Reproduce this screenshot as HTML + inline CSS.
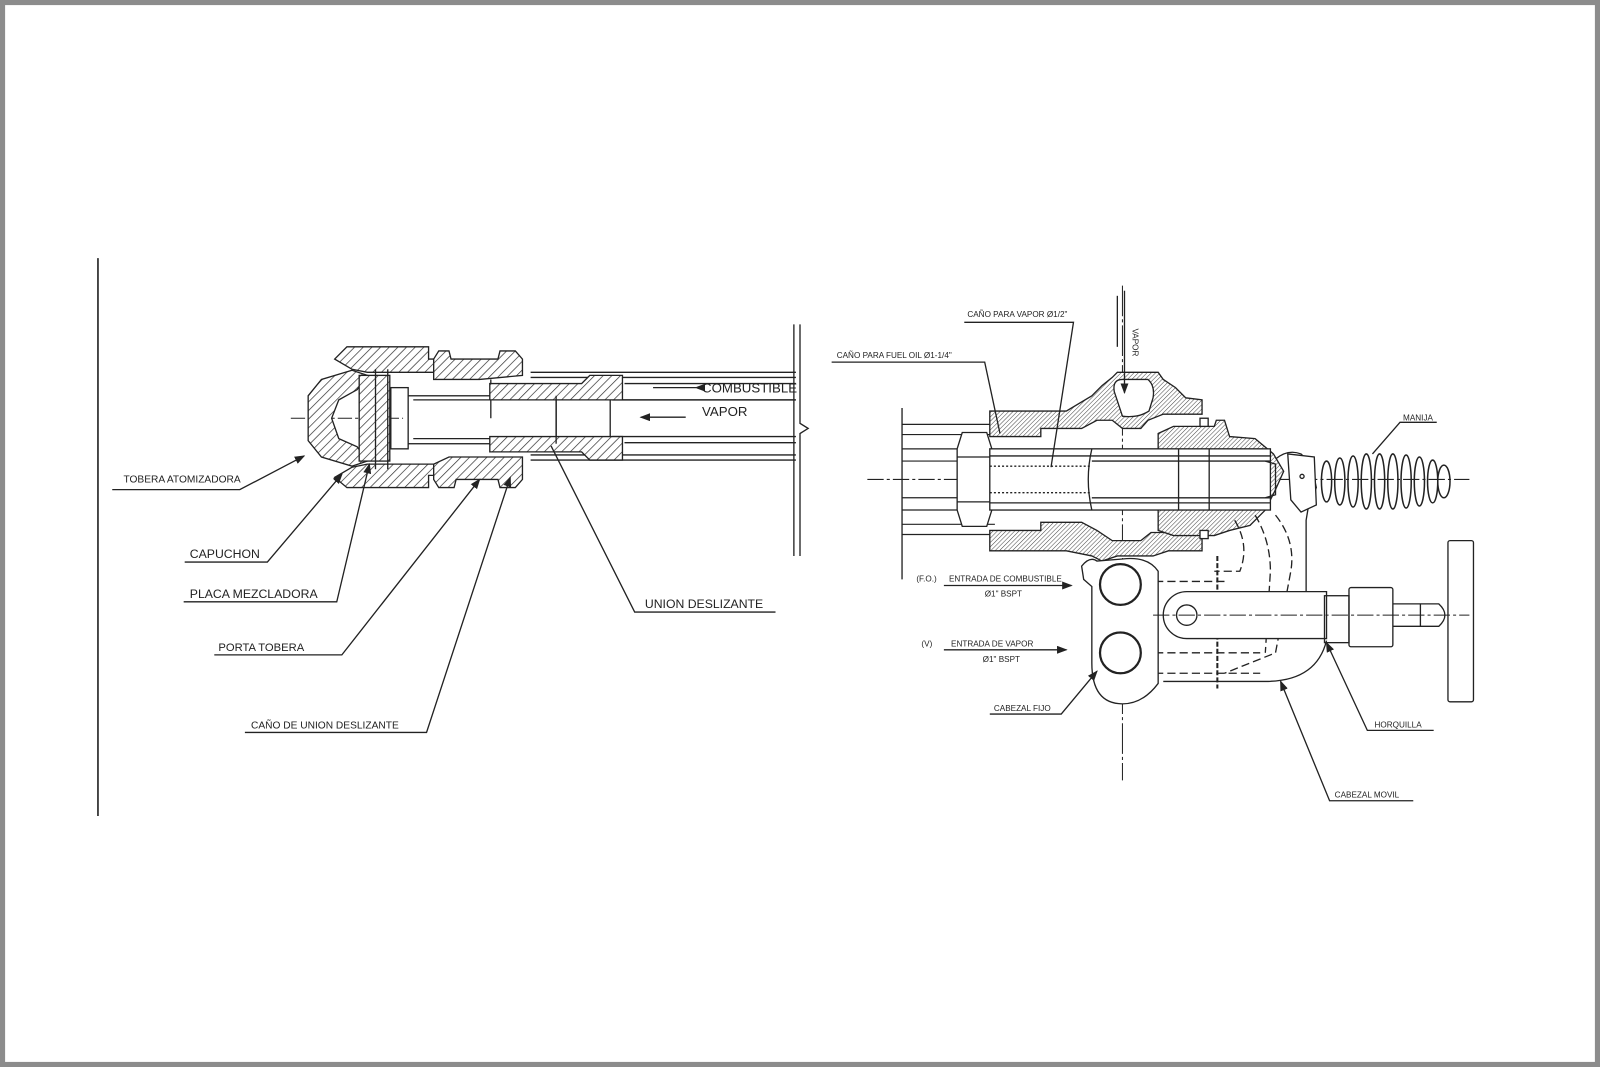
<!DOCTYPE html>
<html><head><meta charset="utf-8"><style>
html,body{margin:0;padding:0;background:#fff}
svg{display:block}
text{font-family:"Liberation Sans",sans-serif;fill:#222}
</style></head><body>
<svg width="1600" height="1067" viewBox="0 0 1568 1046" preserveAspectRatio="none" xmlns="http://www.w3.org/2000/svg">
<defs>
<pattern id="h" width="6" height="6" patternUnits="userSpaceOnUse" patternTransform="rotate(45)"><rect width="6" height="6" fill="#fff"/><line x1="0" y1="0" x2="0" y2="6" stroke="#333" stroke-width="1.4"/></pattern>
<pattern id="hf" width="3" height="3" patternUnits="userSpaceOnUse" patternTransform="rotate(45)"><rect width="3" height="3" fill="#fff"/><line x1="0" y1="0" x2="0" y2="3" stroke="#444" stroke-width="1"/></pattern>
<marker id="a" markerWidth="8" markerHeight="6" refX="7" refY="3" orient="auto"><path d="M0,0 L8,3 L0,6z" fill="#222"/></marker>
</defs>
<rect x="2.5" y="2.5" width="1563" height="1041" fill="#fff" stroke="#8c8c8c" stroke-width="5"/>
<g stroke="#222" stroke-width="1.3" fill="none">
<!-- LEFT -->
<line x1="96" y1="253" x2="96" y2="800" stroke-width="1.6"/>
<line x1="285" y1="410" x2="395" y2="410" stroke-dasharray="14,3,3,3" stroke-width="1"/>
<g stroke-width="1.4">
<line x1="520" y1="365" x2="780" y2="365"/><line x1="520" y1="370" x2="780" y2="370"/>
<line x1="612" y1="376" x2="780" y2="376"/><line x1="600" y1="392" x2="780" y2="392"/>
<line x1="600" y1="428" x2="780" y2="428"/><line x1="612" y1="434" x2="780" y2="434"/>
<line x1="520" y1="446" x2="780" y2="446"/><line x1="520" y1="451" x2="780" y2="451"/>
</g>
<line x1="778" y1="318" x2="778" y2="545"/>
<path d="M784,318 L784,415 L792,420 L784,425 L784,545"/>
<!-- capuchon -->
<path d="M328,352 L340,340 L420,340 L420,352 L440,352 L440,365 L360,365 L345,362 Z" fill="url(#h)"/>
<path d="M328,468 L340,478 L420,478 L420,466 L440,466 L440,455 L360,455 L345,458 Z" fill="url(#h)"/>
<!-- tobera -->
<path d="M345,363 L315,372 L302,388 L302,432 L315,448 L345,457 L360,452 L350,438 L332,430 L325,410 L332,392 L350,382 L360,368 Z" fill="url(#h)"/>
<rect x="352" y="368" width="30" height="84" fill="url(#h)"/>
<line x1="368" y1="362" x2="368" y2="460"/><line x1="380" y1="362" x2="380" y2="460"/>
<rect x="383" y="380" width="17" height="60"/>
<!-- porta tobera -->
<path d="M425,352 L430,344 L440,344 L442,352 L488,352 L490,344 L505,344 L512,352 L512,368 L470,372 L440,372 L425,372 Z" fill="url(#h)"/>
<path d="M425,455 L425,470 L430,478 L445,478 L447,470 L488,470 L490,478 L505,478 L512,470 L512,448 L440,448 Z" fill="url(#h)"/>
<!-- inner tube -->
<rect x="400" y="388" width="145" height="47" fill="#fff"/>
<line x1="405" y1="392" x2="540" y2="392"/><line x1="405" y1="430" x2="540" y2="430"/>
<line x1="481" y1="372" x2="481" y2="410"/>
<!-- union deslizante -->
<path d="M480,376 L570,376 L578,368 L610,368 L610,392 L480,392 Z" fill="url(#h)"/>
<path d="M480,428 L610,428 L610,451 L578,451 L570,443 L480,443 Z" fill="url(#h)"/>
<line x1="545" y1="388" x2="545" y2="435"/><line x1="598" y1="392" x2="598" y2="428"/>
<line x1="640" y1="380" x2="682" y2="380" marker-start="url(#a)" transform="rotate(180 661 380)"/>
<line x1="628" y1="409" x2="672" y2="409" transform="rotate(180 650 409)" marker-end="url(#a)"/>
<!-- leaders left -->
<path d="M110,480 L235,480 L298,447" marker-end="url(#a)"/>
<path d="M181,551 L262,551 L335,465" marker-end="url(#a)"/>
<path d="M180,590 L330,590 L362,455" marker-end="url(#a)"/>
<path d="M210,642 L335,642 L470,470" marker-end="url(#a)"/>
<path d="M240,718 L418,718 L500,468" marker-end="url(#a)"/>
<path d="M760,600 L622,600 L540,437"/>

<!-- RIGHT -->
<line x1="850" y1="470" x2="1440" y2="470" stroke-dasharray="16,3,3,3" stroke-width="1"/>
<line x1="1100" y1="280" x2="1100" y2="765" stroke-dasharray="30,3,3,3" stroke-width="1"/>
<line x1="884" y1="400" x2="884" y2="568"/>
<g stroke-width="1.2">
<line x1="884" y1="416" x2="975" y2="416"/><line x1="884" y1="426" x2="975" y2="426"/>
<line x1="884" y1="440" x2="945" y2="440"/><line x1="884" y1="452" x2="945" y2="452"/>
<line x1="884" y1="488" x2="945" y2="488"/><line x1="884" y1="500" x2="945" y2="500"/>
<line x1="884" y1="514" x2="975" y2="514"/><line x1="884" y1="524" x2="975" y2="524"/>
</g>
<path d="M943,424 L967,424 L972,440 L972,500 L967,516 L943,516 L938,500 L938,440 Z" fill="#fff"/>
<line x1="938" y1="448" x2="972" y2="448"/><line x1="938" y1="492" x2="972" y2="492"/>
<!-- body top -->
<path d="M970,403 L1045,403 L1070,388 L1080,378 L1090,370 L1095,365 L1135,365 L1140,372 L1152,380 L1162,390 L1178,392 L1178,406 L1140,406 L1125,412 L1118,420 L1100,420 L1090,412 L1075,412 L1060,420 L1020,420 L1020,428 L970,428 Z" fill="url(#hf)"/>
<path d="M1092,384 Q1090,372 1100,372 L1125,372 Q1132,378 1130,390 L1126,403 Q1115,410 1100,408 Z" fill="#fff"/>
<!-- body bottom -->
<path d="M970,520 L1020,520 L1020,512 L1060,512 L1075,520 L1090,530 L1118,530 L1128,522 L1178,522 L1178,540 L1145,540 L1130,545 L1095,545 L1080,550 L1070,545 L1045,540 L970,540 Z" fill="url(#hf)"/>
<!-- packing head -->
<path d="M1135,425 L1150,418 L1190,418 L1192,412 L1200,412 L1205,428 L1230,430 L1248,445 L1258,462 L1250,480 L1240,500 L1225,515 L1205,520 L1190,525 L1150,525 L1135,520 Z" fill="url(#hf)"/>
<rect x="1176" y="410" width="8" height="8" fill="#fff"/><rect x="1176" y="520" width="8" height="8" fill="#fff"/>
<!-- inner pipes -->
<rect x="970" y="440" width="275" height="60" fill="#fff"/>
<line x1="970" y1="447" x2="1245" y2="447"/><line x1="970" y1="493" x2="1245" y2="493"/>
<line x1="1070" y1="452" x2="1245" y2="452"/><line x1="1070" y1="488" x2="1245" y2="488"/>
<line x1="970" y1="457" x2="1070" y2="457" stroke-dasharray="2,2"/><line x1="970" y1="483" x2="1070" y2="483" stroke-dasharray="2,2"/>
<line x1="1155" y1="440" x2="1155" y2="500"/><line x1="1185" y1="440" x2="1185" y2="500"/>
<path d="M1070,440 Q1063,470 1070,500"/>
<path d="M1240,452 L1250,455 L1250,485 L1240,488"/>
<!-- vapor arrow -->
<line x1="1102" y1="285" x2="1102" y2="385" marker-end="url(#a)"/>
<line x1="1095" y1="290" x2="1095" y2="340"/>
<!-- moving head / C frame -->
<path d="M1250,450 Q1262,440 1275,445 L1285,455 L1290,478 L1282,498 L1280,510 L1280,610"/>
<path d="M1300,628 Q1290,668 1240,668 L1140,668"/>
<g stroke-dasharray="8,4">
<path d="M1250,505 Q1270,530 1265,560 L1250,640 L1200,660"/>
<path d="M1230,505 Q1245,530 1245,560 L1240,640"/>
<path d="M1210,510 Q1225,535 1215,560 L1190,560"/>
<line x1="1120" y1="570" x2="1200" y2="570"/>
<line x1="1120" y1="640" x2="1235" y2="640"/>
<line x1="1120" y1="660" x2="1235" y2="660"/>
</g>
<line x1="1193" y1="545" x2="1193" y2="675" stroke-width="2" stroke-dasharray="5,2"/>
<!-- fixed head -->
<path d="M1075,550 Q1068,545 1060,555 L1062,568 L1070,575 L1070,650 Q1070,690 1100,690 Q1120,690 1135,670 L1135,560 Q1125,545 1100,548 Z" fill="#fff"/>
<circle cx="1098" cy="573" r="20" stroke-width="2.2"/>
<circle cx="1098" cy="640" r="20" stroke-width="2.2"/>
<!-- link -->
<path d="M1163,580 L1300,580 L1300,626 L1163,626 A23,23 0 0 1 1163,580 Z" fill="#fff"/>
<circle cx="1163" cy="603" r="10"/>
<line x1="1130" y1="603" x2="1440" y2="603" stroke-dasharray="16,3,3,3" stroke-width="1"/>
<rect x="1298" y="584" width="24" height="46"/>
<rect x="1322" y="576" width="43" height="58" rx="2"/>
<path d="M1365,592 L1410,592 Q1422,603 1410,614 L1365,614"/>
<line x1="1392" y1="592" x2="1392" y2="614"/>
<rect x="1419" y="530" width="25" height="158" rx="2"/>
<!-- handle -->
<path d="M1262,445 L1288,448 L1290,495 L1275,502 L1265,490 Z" fill="#fff"/>
<circle cx="1276" cy="467" r="2"/>
<g stroke-width="1.5">
<ellipse cx="1300" cy="472" rx="5" ry="20"/><ellipse cx="1313" cy="472" rx="5" ry="23"/>
<ellipse cx="1326" cy="472" rx="5" ry="25"/><ellipse cx="1339" cy="472" rx="5" ry="27"/>
<ellipse cx="1352" cy="472" rx="5" ry="27"/><ellipse cx="1365" cy="472" rx="5" ry="27"/>
<ellipse cx="1378" cy="472" rx="5" ry="26"/><ellipse cx="1391" cy="472" rx="5" ry="24"/>
<ellipse cx="1404" cy="472" rx="5" ry="21"/><ellipse cx="1415" cy="472" rx="6" ry="16"/>
</g>
<!-- right leaders -->
<path d="M945,316 L1052,316 L1030,458"/>
<path d="M815,355 L965,355 L980,425"/>
<path d="M1408,414 L1372,414 L1345,445"/>
<path d="M925,574 L1050,574" marker-end="url(#a)"/>
<path d="M925,637 L1045,637" marker-end="url(#a)"/>
<path d="M970,700 L1040,700 L1075,658" marker-end="url(#a)"/>
<path d="M1405,716 L1340,716 L1300,630" marker-end="url(#a)"/>
<path d="M1385,785 L1303,785 L1255,668" marker-end="url(#a)"/>
</g>
<!-- left texts -->
<text x="121" y="473" font-size="10">TOBERA ATOMIZADORA</text>
<text x="186" y="547" font-size="12">CAPUCHON</text>
<text x="186" y="586" font-size="12">PLACA MEZCLADORA</text>
<text x="214" y="638" font-size="11">PORTA TOBERA</text>
<text x="246" y="714" font-size="10">CAÑO DE UNION DESLIZANTE</text>
<text x="632" y="596" font-size="12">UNION DESLIZANTE</text>
<text x="688" y="385" font-size="13">COMBUSTIBLE</text>
<text x="688" y="408" font-size="13">VAPOR</text>
<!-- right texts -->
<text x="948" y="311" font-size="8">CAÑO PARA VAPOR Ø1/2"</text>
<text x="820" y="351" font-size="8">CAÑO PARA FUEL OIL Ø1-1/4"</text>
<text x="1110" y="322" font-size="8" transform="rotate(90 1110 322)">VAPOR</text>
<text x="1375" y="412" font-size="8">MANIJA</text>
<text x="898" y="570" font-size="8">(F.O.)</text>
<text x="930" y="570" font-size="8">ENTRADA DE COMBUSTIBLE</text>
<text x="965" y="585" font-size="8">Ø1" BSPT</text>
<text x="903" y="634" font-size="8">(V)</text>
<text x="932" y="634" font-size="8">ENTRADA DE VAPOR</text>
<text x="963" y="649" font-size="8">Ø1" BSPT</text>
<text x="974" y="697" font-size="8">CABEZAL FIJO</text>
<text x="1347" y="713" font-size="8">HORQUILLA</text>
<text x="1308" y="782" font-size="8">CABEZAL MOVIL</text>
</svg>
</body></html>
